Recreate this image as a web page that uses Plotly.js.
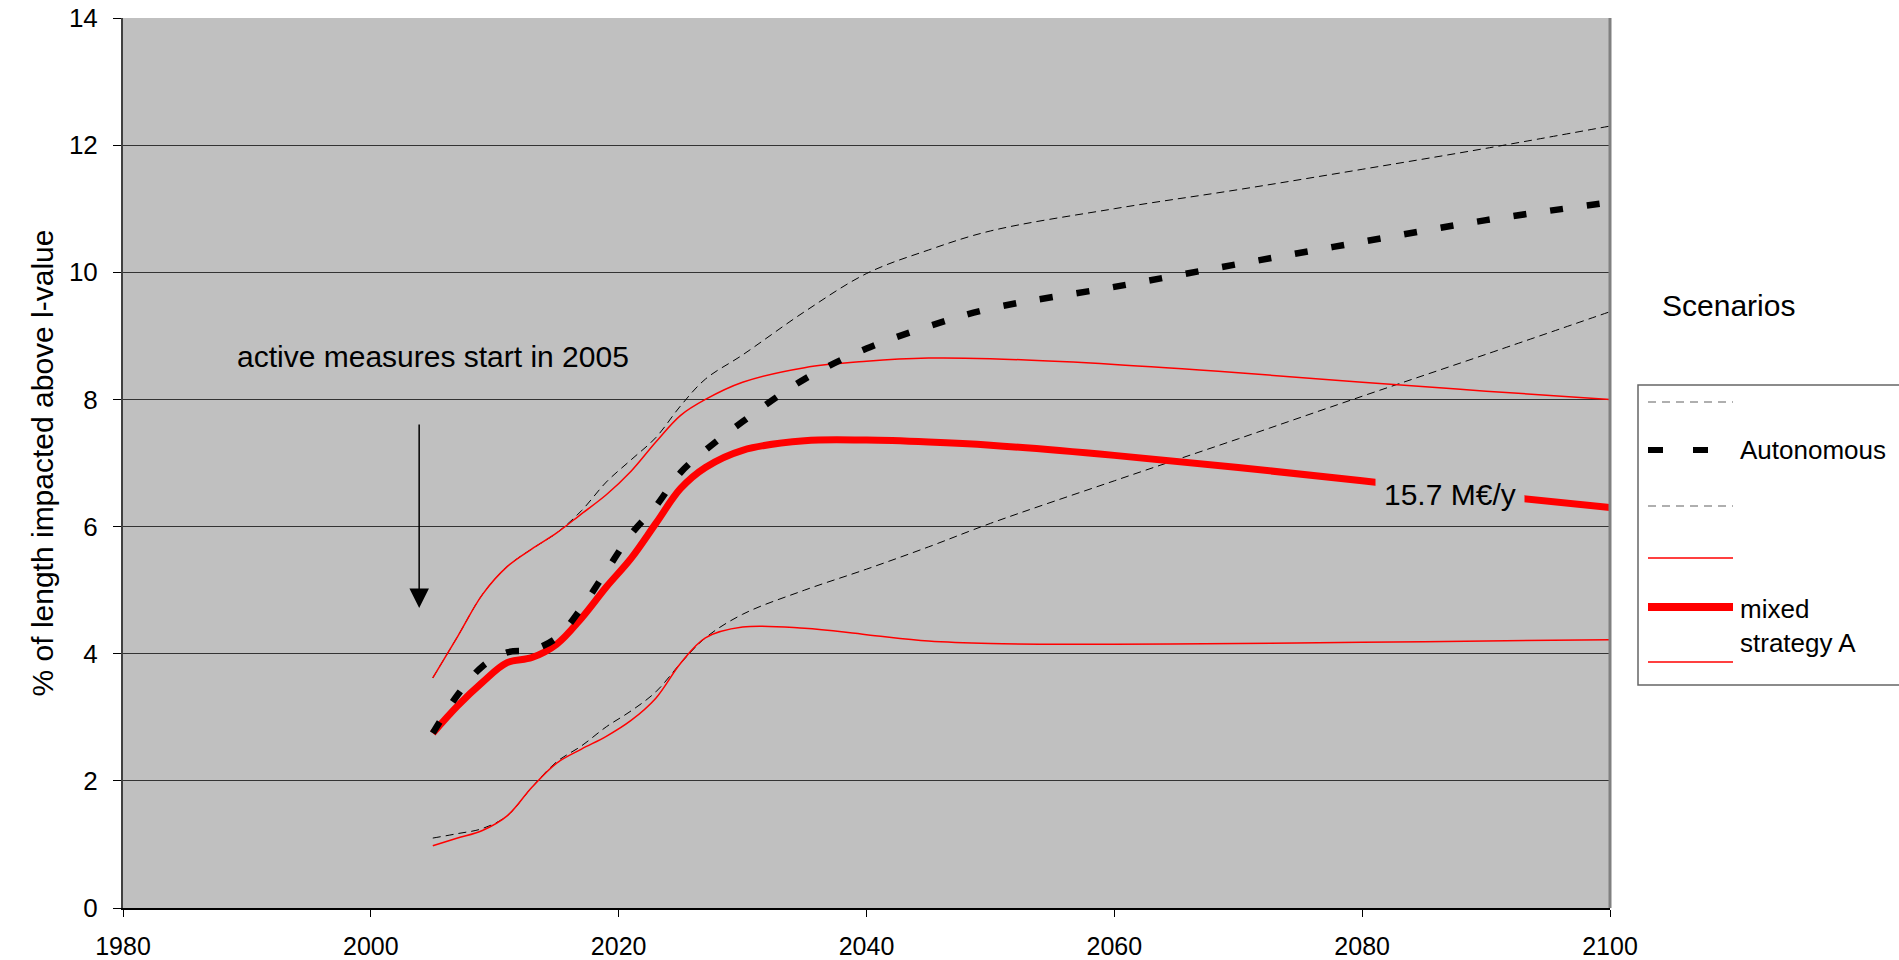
<!DOCTYPE html>
<html>
<head>
<meta charset="utf-8">
<script src="https://cdn.plot.ly/plotly-3.0.1.min.js"></script>
<style>html,body{margin:0;padding:0;background:#fff;}#chart{width:1899px;height:960px;}</style>
</head>
<body>
<div id="chart"></div>
<script>
const years = [2005, 2007, 2009, 2011, 2013, 2015, 2017, 2019, 2021, 2023, 2025, 2027, 2030, 2035, 2040, 2045, 2050, 2060, 2070, 2080, 2090, 2100];

// Autonomous scenario (central, upper, lower)
const autonomous      = [2.75, 3.35, 3.80, 4.02, 4.06, 4.25, 4.72, 5.30, 5.88, 6.32, 6.85, 7.20, 7.65, 8.32, 8.80, 9.15, 9.43, 9.77, 10.13, 10.48, 10.82, 11.10];
const autonomousUpper = [3.62, 4.27, 4.93, 5.37, 5.65, 5.90, 6.25, 6.70, 7.05, 7.40, 7.90, 8.32, 8.70, 9.38, 9.98, 10.35, 10.65, 11.00, 11.30, 11.62, 11.95, 12.30];
const autonomousLower = [1.10, 1.17, 1.25, 1.45, 1.90, 2.30, 2.55, 2.85, 3.10, 3.40, 3.85, 4.25, 4.62, 5.00, 5.33, 5.68, 6.05, 6.72, 7.38, 8.05, 8.71, 9.38];

// Mixed strategy A (central, upper, lower)
const mixedA      = [2.75, 3.18, 3.55, 3.86, 3.94, 4.15, 4.56, 5.05, 5.50, 6.05, 6.60, 6.93, 7.20, 7.35, 7.36, 7.33, 7.28, 7.12, 6.93, 6.72, 6.50, 6.30];
const mixedAUpper = [3.62, 4.27, 4.93, 5.37, 5.65, 5.90, 6.20, 6.50, 6.87, 7.33, 7.75, 8.00, 8.27, 8.50, 8.60, 8.65, 8.64, 8.55, 8.42, 8.27, 8.13, 8.00];
const mixedALower = [0.98, 1.10, 1.22, 1.45, 1.90, 2.28, 2.50, 2.70, 2.95, 3.30, 3.85, 4.25, 4.42, 4.40, 4.30, 4.20, 4.16, 4.15, 4.16, 4.18, 4.20, 4.22];

const xTicks = [1980, 2000, 2020, 2040, 2060, 2080, 2100];
const yTicks = [0, 2, 4, 6, 8, 10, 12, 14];

const FONT = 'Liberation Sans, Arial, Helvetica, sans-serif';

function tr(y, color, width, dash) {
  return {
    x: years, y: y, type: 'scatter', mode: 'lines',
    line: {color: color, width: width, dash: dash, shape: 'spline', smoothing: 1},
    showlegend: false, hoverinfo: 'x+y'
  };
}

const data = [
  tr(autonomousUpper, '#000000', 1, '8px,5px'),
  tr(autonomousLower, '#000000', 1, '8px,5px'),
  tr(mixedAUpper, '#FF0000', 1.5, 'solid'),
  tr(mixedALower, '#FF0000', 1.5, 'solid'),
  tr(mixedA, '#FF0000', 7, 'solid'),
  tr(autonomous, '#000000', 6.5, '13px,24px')
];

// paper-coordinate helpers for the legend block (plot spans x 123..1610, y 18..908)
const px = v => (v - 123) / 1487;
const py = v => (908 - v) / 890;

const legendRows = [
  {y: 402, color: '#606060', width: 1.2, dash: '8px,6px'},
  {y: 450, color: '#000000', width: 6, dash: '15px,30px'},
  {y: 506, color: '#606060', width: 1.2, dash: '8px,6px'},
  {y: 558, color: '#FF0000', width: 1.5, dash: 'solid'},
  {y: 607, color: '#FF0000', width: 8, dash: 'solid'},
  {y: 662, color: '#FF0000', width: 1.5, dash: 'solid'}
];

const shapes = [
  {type: 'line', xref: 'paper', yref: 'paper', x0: 1, x1: 1, y0: 0, y1: 1, line: {color: '#808080', width: 3}},
  {type: 'rect', xref: 'paper', yref: 'paper', x0: px(1638), x1: px(1960), y0: py(685), y1: py(385),
   line: {color: '#666666', width: 1.5}, fillcolor: '#FFFFFF'}
];
legendRows.forEach(r => shapes.push({
  type: 'line', xref: 'paper', yref: 'paper', x0: px(1648), x1: px(1733), y0: py(r.y), y1: py(r.y),
  line: {color: r.color, width: r.width, dash: r.dash}
}));

const annotations = [
  {x: 2005.0, y: 8.67, xref: 'x', yref: 'y', xanchor: 'center', yanchor: 'middle',
   text: 'active measures start in 2005', showarrow: false,
   font: {family: FONT, size: 30, color: '#000'}},
  {x: 2003.9, y: 4.72, ax: 2003.9, ay: 7.63, xref: 'x', yref: 'y', axref: 'x', ayref: 'y', text: '',
   showarrow: true, arrowhead: 2, arrowsize: 2.6, arrowwidth: 1.5, arrowcolor: '#000'},
  {x: 2087.1, y: 6.5, xref: 'x', yref: 'y', xanchor: 'center', yanchor: 'middle',
   text: '15.7 M€/y', showarrow: false, bgcolor: '#C0C0C0',
   borderpad: 8, font: {family: FONT, size: 30, color: '#000'}},
  {x: px(1728), y: py(305), xref: 'paper', yref: 'paper', xanchor: 'center', yanchor: 'middle',
   text: 'Scenarios', showarrow: false,
   font: {family: FONT, size: 30, color: '#000'}},
  {x: px(1738), y: py(450), xref: 'paper', yref: 'paper', xanchor: 'left', yanchor: 'middle', text: 'Autonomous',
   showarrow: false, font: {family: FONT, size: 26, color: '#000'}},
  {x: px(1738), y: py(626), xref: 'paper', yref: 'paper', xanchor: 'left', yanchor: 'middle', align: 'left',
   text: 'mixed<br>strategy A', showarrow: false, font: {family: FONT, size: 26, color: '#000'}}
];

const layout = {
  width: 1899, height: 960,
  margin: {l: 123, r: 289, t: 18, b: 52, pad: 0},
  paper_bgcolor: '#FFFFFF', plot_bgcolor: '#C0C0C0',
  showlegend: false,
  font: {family: FONT, size: 26, color: '#000'},
  xaxis: {
    range: [1980, 2100], tickmode: 'array', tickvals: xTicks, ticktext: xTicks.map(String),
    ticks: 'outside', ticklen: 7, tickwidth: 1, tickcolor: '#000',
    showgrid: false, zeroline: false, showline: true, linecolor: '#000', linewidth: 1.5,
    tickfont: {family: FONT, size: 25, color: '#000'}, ticklabelstandoff: 8
  },
  yaxis: {
    range: [0, 14], tickmode: 'array', tickvals: yTicks, ticktext: yTicks.map(String),
    ticks: 'outside', ticklen: 8, tickwidth: 1, tickcolor: '#000',
    showgrid: true, gridcolor: '#333333', gridwidth: 1, zeroline: false,
    showline: true, linecolor: '#404040', linewidth: 2,
    tickfont: {family: FONT, size: 26, color: '#000'}, ticklabelstandoff: 10,
    title: {text: '% of length impacted above l-value', font: {family: FONT, size: 30, color: '#000'}, standoff: 6}
  },
  shapes: shapes,
  annotations: annotations
};

Plotly.newPlot('chart', data, layout, {displayModeBar: false, staticPlot: true});
</script>
</body>
</html>
